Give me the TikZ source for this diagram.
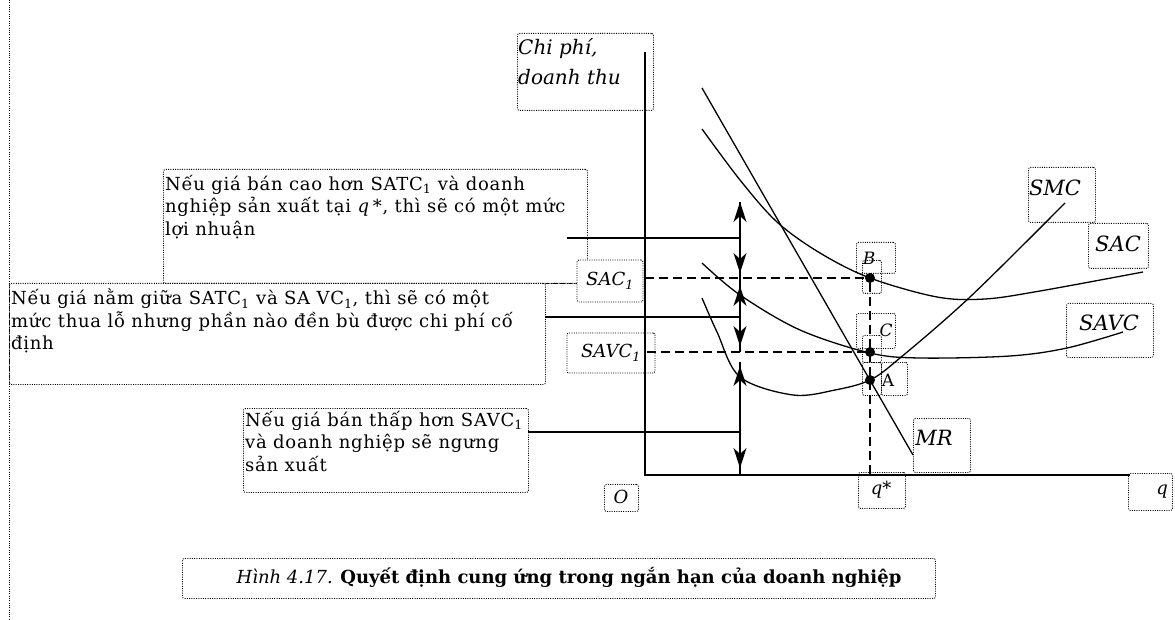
\documentclass[tikz,border=0pt]{standalone}
\usepackage{fontspec}
\setmainfont{DejaVu Serif}
\usetikzlibrary{arrows.meta}
\begin{document}
\begin{tikzpicture}[x=1pt,y=-1pt,
  frame/.style={draw, line width=0.9pt, dash pattern=on 1pt off 1.3pt, rounded corners=2pt},
  fbox/.style={frame, anchor=north west, inner sep=0pt},
  txt/.style={font=\fontsize{18}{22.5}\selectfont\addfontfeature{LetterSpace=4.0}, align=left, inner sep=0pt, anchor=north west},
  lab/.style={font=\fontsize{21}{24}\selectfont\itshape, inner sep=0pt},
  slab/.style={font=\fontsize{18}{22}\selectfont\itshape, inner sep=0pt},
  plab/.style={font=\fontsize{17}{20}\selectfont, inner sep=0pt},
  axis/.style={line width=2pt},
  conn/.style={line width=1.5pt},
  curve/.style={line width=1.3pt},
  guide/.style={line width=1.5pt, dash pattern=on 9pt off 5pt},
  tip/.style={-{Stealth[length=20pt,width=13pt,inset=6pt]}, line width=1.5pt},
  pt/.style={circle, fill, inner sep=0pt, minimum size=10pt},
]
\useasboundingbox (0,0) rectangle (1175,620);

% left margin line
\coordinate (m1) at (9,0);
\coordinate (m2) at (9,620);
\draw[frame] (m1) -- (m2);

% text frames
\node[fbox, minimum width=424pt, minimum height=114pt] (f1) at (163,169) {};
\node[fbox, minimum width=536pt, minimum height=101pt] (f2) at (9,283) {};
\node[fbox, minimum width=285pt, minimum height=84pt] (f3) at (243,408) {};
\coordinate (f2x) at (577,283);
\draw[frame] (f2.north east) -- (f2x);

\node[txt] (t1) at (165,175) {Nếu giá bán cao hơn SATC\textsubscript{1} và doanh\\nghiệp sản xuất tại \textit{q}\,*, thì sẽ có một mức\\lợi nhuận};
\node[txt] (t2) at (11,289) {Nếu giá nằm giữa SATC\textsubscript{1} và SA VC\textsubscript{1}, thì sẽ có một\\mức thua lỗ nhưng phần nào đền bù được chi phí cố\\định};
\node[txt] (t3) at (245,411) {Nếu giá bán thấp hơn SAVC\textsubscript{1}\\và doanh nghiệp sẽ ngưng\\sản xuất};

% axis label frame
\node[fbox, minimum width=136pt, minimum height=77pt] (fy) at (517,33) {};
\node[lab, anchor=north west, align=left, font=\fontsize{20}{30}\selectfont\itshape] (ty) at (518,38) {Chi phí,\\doanh thu};

% SAC1 / SAVC1
\node[frame, fill=white, minimum width=66pt, minimum height=42pt, slab] (sac1) at (610,281) {SAC\textsubscript{1}};
\node[frame, minimum width=88pt, minimum height=40pt, slab] (savc1) at (611,353) {SAVC\textsubscript{1}};

% axes
\coordinate (ytop) at (645,52);
\coordinate (orig) at (645,475);
\coordinate (xend) at (1130,475);
\draw[axis] (ytop) -- (orig) -- (xend);

% curve labels
\node[fbox, minimum width=67pt, minimum height=55pt] (fsmc) at (1028,167) {};
\node[lab] (smc) at (1055,188) {SMC};
\node[fbox, minimum width=60pt, minimum height=45pt] (fsac) at (1088,223) {};
\node[lab] (sac) at (1118,244) {SAC};
\node[fbox, minimum width=87pt, minimum height=54pt] (fsavc) at (1066,303) {};
\node[lab] (savc) at (1109,323) {SAVC};
\node[fbox, minimum width=57pt, minimum height=54pt] (fmr) at (913,418) {};
\node[lab] (mr) at (934,438) {MR};
\node[fbox, minimum width=47pt, minimum height=36pt] (fqs) at (858,472) {};
\node[slab] (qs) at (881,490) {q*};
\node[fbox, minimum width=34pt, minimum height=27pt] (fo) at (604,484) {};
\node[slab] (o) at (621,497) {O};
\node[fbox, minimum width=44pt, minimum height=37pt] (fq) at (1128,473) {};
\node[slab] (q) at (1162,492) {q};

% point frames
\node[fbox, minimum width=39pt, minimum height=31pt] (fB) at (856,242) {};
\node[fbox, minimum width=19pt, minimum height=33pt] (fB2) at (862,260) {};
\node[fbox, minimum width=39pt, minimum height=35pt] (fC) at (856,313) {};
\node[fbox, minimum width=19pt, minimum height=27pt] (fC2) at (862,335) {};
\node[fbox, minimum width=19pt, minimum height=33pt] (fA2) at (862,362) {};
\node[fbox, minimum width=26pt, minimum height=33pt] (fA) at (881,362) {};
\node[plab, font=\fontsize{17}{20}\selectfont\itshape] (lB) at (869,258) {B};
\node[plab, font=\fontsize{17}{20}\selectfont\itshape] (lC) at (886,330) {C};
\node[plab] (lA) at (888,380) {A};

% curves
\coordinate (mr1) at (702,88);
\coordinate (mr2) at (913,455);
\draw[curve] (mr1) -- (mr2);
\draw[curve] plot[smooth, tension=0.55] coordinates {(702,129) (740,180) (777,222) (820,253) (870,278) (937,297) (985,299) (1040,291) (1143,272)};
\draw[curve] plot[smooth, tension=0.55] coordinates {(702,263) (740,295) (800,330) (870,353) (920,358) (1010,356) (1067,348) (1123,332)};
\draw[curve] plot[smooth, tension=0.55] coordinates {(702,298) (717,332) (740,377) (793,395) (835,390) (870,380) (900,358) (970,297) (1065,203)};

% points
\node[pt] (B) at (870,278) {};
\node[pt] (C) at (870,352) {};
\node[pt] (A) at (870,380) {};
\coordinate (qstar) at (870,475);
\coordinate (ysac) at (645,278);
\coordinate (ysavc) at (647,352);
\draw[guide] (ysac) -- (B);
\draw[guide] (ysavc) -- (C);
\draw[guide] (B) -- (qstar);

% connectors to the arrows
\coordinate (h1) at (567,238);
\coordinate (v1) at (740,238);
\coordinate (h2) at (545,317);
\coordinate (v2) at (740,317);
\coordinate (h3) at (528,432);
\coordinate (v3) at (740,432);
\draw[conn] (h1) -- (v1);
\draw[conn] (h2) -- (v2);
\draw[conn] (h3) -- (v3);

% double arrows
\coordinate (s1a) at (740,202);
\coordinate (s1b) at (740,278);
\coordinate (s2a) at (740,278);
\coordinate (s2b) at (740,352);
\coordinate (s3a) at (740,362);
\coordinate (s3b) at (740,475);
\draw[conn] (s1a) -- (s1b);
\draw[conn] (s2a) -- (s2b);
\draw[conn] (s3a) -- (s3b);
\draw[tip] (740,232) -- (s1a);
\draw[tip] (740,245) -- (740,273);
\draw[tip] (740,315) -- (740,286);
\draw[tip] (740,318) -- (740,346);
\draw[tip] (740,395) -- (740,366);
\draw[tip] (740,440) -- (740,468);

% caption
\node[fbox, minimum width=753pt, minimum height=40pt] (fcap) at (182,558) {};
\node[inner sep=0pt, font=\fontsize{18}{20}\selectfont] (cap) at (569,577) {\textit{Hình 4.17.} \textbf{Quyết định cung ứng trong ngắn hạn của doanh nghiệp}};
\end{tikzpicture}
\end{document}
